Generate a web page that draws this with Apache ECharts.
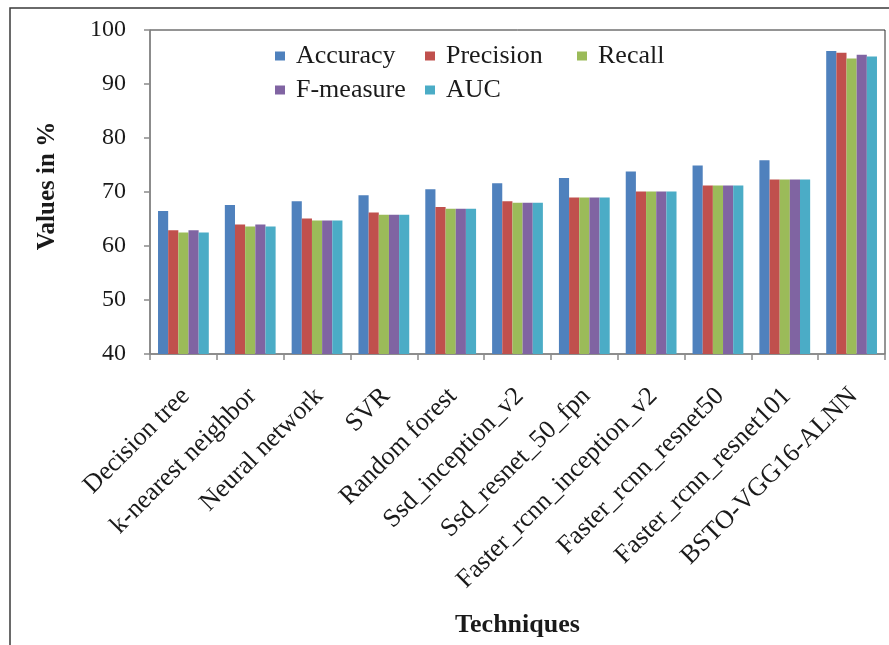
<!DOCTYPE html>
<html>
<head>
<meta charset="utf-8">
<title>Values in % by technique</title>
<script src="https://cdn.jsdelivr.net/npm/echarts@6/dist/echarts.min.js"></script>
<style>
  html, body { margin: 0; padding: 0; background: #fff; }
  #chart { width: 889px; height: 645px; }
</style>
</head>
<body>
<div id="chart"></div>
<script>
// Techniques compared
const techniques = [
  'Decision tree', 'k-nearest neighbor', 'Neural network', 'SVR', 'Random forest',
  'Ssd_inception_v2', 'Ssd_resnet_50_fpn', 'Faster_rcnn_inception_v2',
  'Faster_rcnn_resnet50', 'Faster_rcnn_resnet101', 'BSTO-VGG16-ALNN'
];

// Metric values (%) per technique
const accuracy  = [66.5, 67.6, 68.3, 69.4, 70.5, 71.6, 72.6, 73.8, 74.9, 75.9, 96.1];
const precision = [62.9, 64.0, 65.1, 66.2, 67.2, 68.3, 69.0, 70.1, 71.2, 72.3, 95.8];
const recall    = [62.5, 63.6, 64.7, 65.8, 66.9, 68.0, 69.0, 70.1, 71.2, 72.3, 94.7];
const fMeasure  = [62.9, 64.0, 64.7, 65.8, 66.9, 68.0, 69.0, 70.1, 71.2, 72.3, 95.4];
const auc       = [62.5, 63.6, 64.7, 65.8, 66.9, 68.0, 69.0, 70.1, 71.2, 72.3, 95.1];

const metricNames = ['Accuracy', 'Precision', 'Recall', 'F-measure', 'AUC'];
const metricValues = [accuracy, precision, recall, fMeasure, auc];
const metricColors = ['#4F81BD', '#C0504D', '#9BBB59', '#8064A2', '#4BACC6'];

const FONT = '"Liberation Serif", "Times New Roman", serif';
const TEXT = '#1a1a1a';
const AXIS = '#8a8a8a';

// one legend block per entry so the entries sit in fixed columns
const legendSlots = [
  { left: 275, top: 43 }, { left: 425, top: 43 }, { left: 577, top: 43 },
  { left: 275, top: 77 }, { left: 425, top: 77 }
];
const legends = metricNames.map((name, i) => ({
  data: [name],
  left: legendSlots[i].left,
  top: legendSlots[i].top,
  orient: 'horizontal',
  icon: 'rect',
  itemWidth: 10,
  itemHeight: 9,
  padding: 0,
  selectedMode: false,
  textStyle: { fontFamily: FONT, fontSize: 26, color: TEXT, padding: [0, 0, 0, 6] }
}));

const series = metricNames.map((name, i) => ({
  name: name,
  type: 'bar',
  data: metricValues[i],
  barGap: '0%',
  barCategoryGap: '24%',
  itemStyle: { color: metricColors[i] }
}));

const chart = echarts.init(document.getElementById('chart'), null, { renderer: 'canvas' });
chart.setOption({
  backgroundColor: '#fff',
  animation: false,
  graphic: [{
    type: 'rect',
    z: -10,
    shape: { x: 10, y: 8, width: 1000, height: 1000 },
    style: { fill: 'none', stroke: '#3a3a3a', lineWidth: 1.5 }
  }],
  legend: legends,
  grid: {
    left: 150, right: 4, top: 30, bottom: 291,
    show: true, borderColor: '#2a2a2a', borderWidth: 1, backgroundColor: 'transparent'
  },
  xAxis: {
    type: 'category',
    data: techniques,
    name: 'Techniques',
    nameLocation: 'middle',
    nameGap: 258,
    nameTextStyle: { fontFamily: FONT, fontSize: 26, fontWeight: 'bold', color: TEXT },
    axisLine: { show: true, lineStyle: { color: AXIS, width: 1.5 } },
    axisTick: { show: true, interval: 0, length: 6, lineStyle: { color: AXIS, width: 1.5 } },
    axisLabel: {
      interval: 0,
      rotate: 45,
      margin: 22,
      align: 'right',
      verticalAlign: 'top',
      padding: [0, 10, 0, 0],
      fontFamily: FONT,
      fontSize: 26,
      color: TEXT
    },
    splitLine: { show: false }
  },
  yAxis: {
    type: 'value',
    min: 40,
    max: 100,
    interval: 10,
    name: 'Values in %',
    nameLocation: 'middle',
    nameGap: 90,
    nameTextStyle: {
      fontFamily: FONT, fontSize: 25, fontWeight: 'bold', color: TEXT,
      padding: [0, 0, 0, 12]
    },
    axisLine: { show: true, lineStyle: { color: AXIS, width: 1.5 } },
    axisTick: { show: true, length: 6, lineStyle: { color: AXIS, width: 1.5 } },
    axisLabel: { margin: 24, fontFamily: FONT, fontSize: 24, color: TEXT },
    splitLine: { show: false }
  },
  series: series
});
</script>
</body>
</html>
